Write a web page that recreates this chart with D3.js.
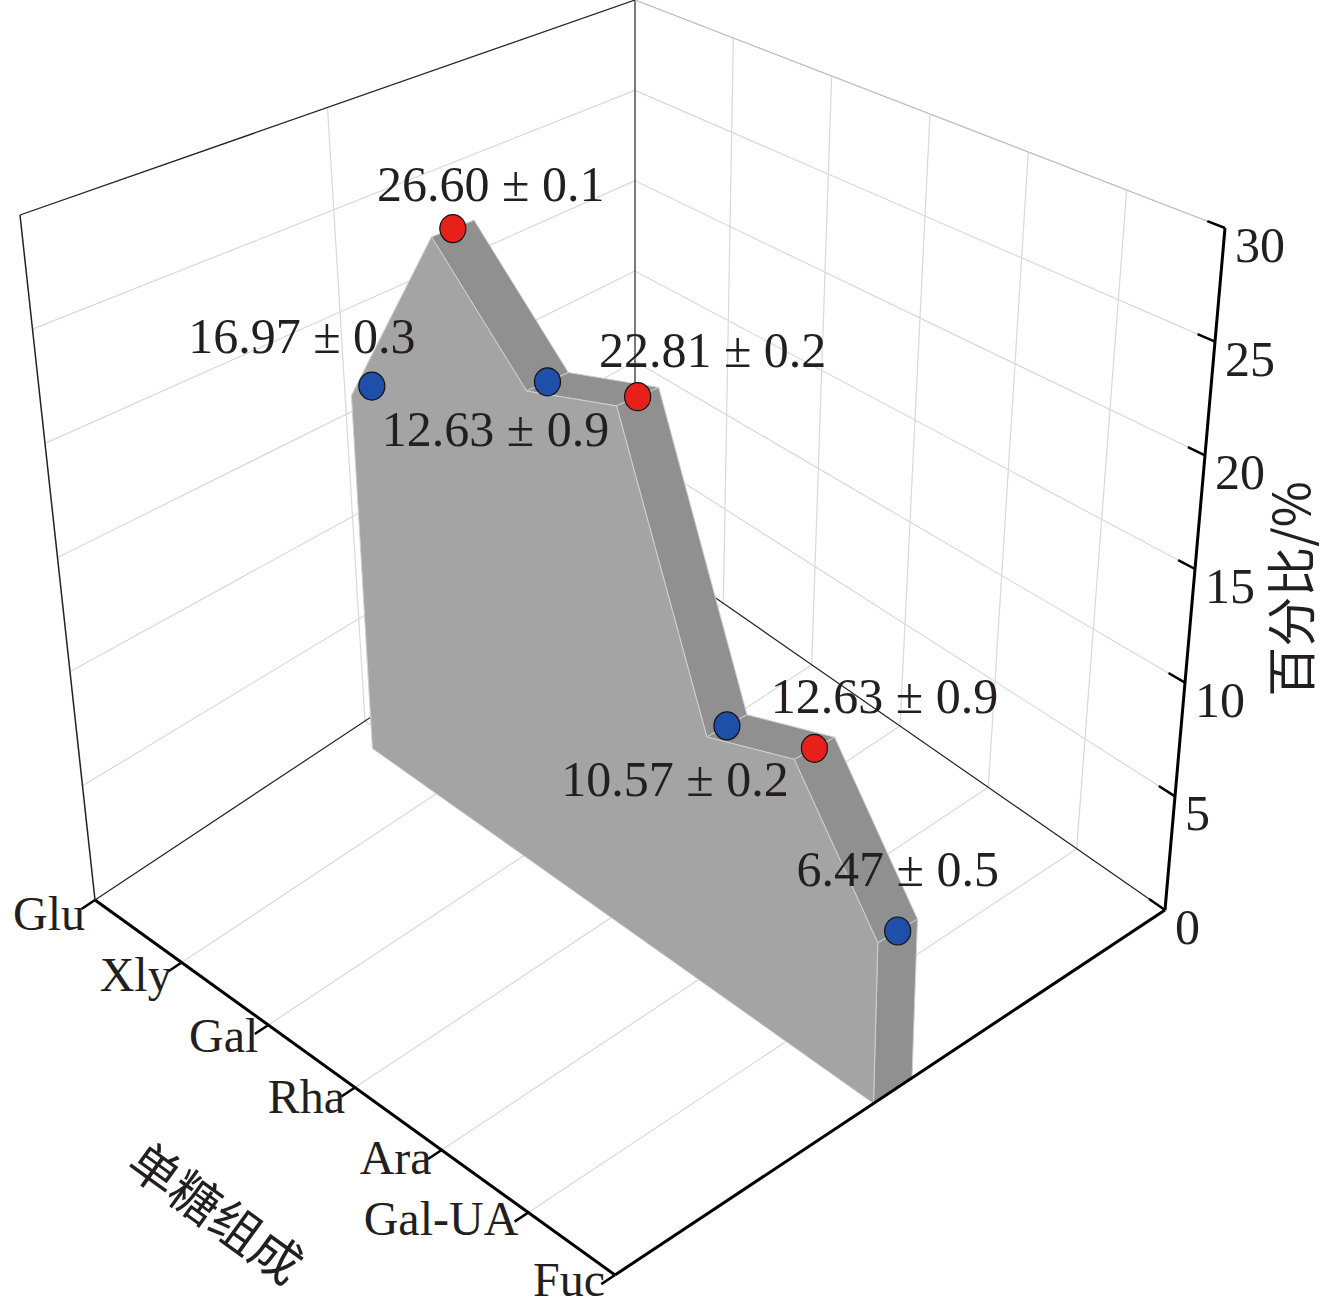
<!DOCTYPE html>
<html><head><meta charset="utf-8">
<script src="https://cdn.jsdelivr.net/npm/d3@7"></script>
<style>body{margin:0;background:#fff}</style></head>
<body><svg id="c" width="1332" height="1309"></svg>
<script>
var categories = ["Glu", "Xly", "Gal", "Rha", "Ara", "Gal-UA", "Fuc"];
var values = [16.97, 26.60, 21.5, 22.81, 10.57, 11.8, 6.47];
var labels = ["16.97 ± 0.3", "26.60 ± 0.1", "12.63 ± 0.9", "22.81 ± 0.2", "10.57 ± 0.2", "12.63 ± 0.9", "6.47 ± 0.5"];
var colors = ["#1f4fa8", "#e8201c", "#1f4fa8", "#e8201c", "#1f4fa8", "#e8201c", "#1f4fa8"];
var zTicks = [0, 5, 10, 15, 20, 25, 30];
// label offset from point (text centre x, baseline y)
var labelOff = [[-70, -33], [38, -28], [-52, 64], [75, -30], [-52, 70], [70, -35], [0, -45]];

var svg = d3.select("#c");
var serif = "'Liberation Serif', 'Times New Roman', serif";

// projection: floor corners and vertical vectors (per 30 units) at corners
var A = [95, 900], B = [615, 1275], C = [1165, 910], D = [635, 542];
var HA = [-75, -685], HB = [-15, -800], HC = [60, -682], HD = [0, -542];
function bil(a, b, c, d, u, v) {
  return [0, 1].map(function(k) {
    return (1-u)*(1-v)*a[k] + u*(1-v)*b[k] + u*v*c[k] + (1-u)*v*d[k];
  });
}
var zs = d3.scaleLinear().domain([0, 30]).range([0, 1]);
var us = d3.scalePoint().domain(categories).range([0.045, 1.0]);
function P(u, v, z) {
  var f = bil(A, B, C, D, u, v), h = bil(HA, HB, HC, HD, u, v), t = zs(z);
  return [f[0] + t*h[0], f[1] + t*h[1]];
}
function poly(pts) { return "M" + pts.map(function(p) { return p.join(","); }).join("L") + "Z"; }
function line(a, b, col, w) {
  svg.append("line").attr("x1", a[0]).attr("y1", a[1]).attr("x2", b[0]).attr("y2", b[1])
    .attr("stroke", col).attr("stroke-width", w);
}

// grids
var grid = "#d9d9d9";
zTicks.slice(1).forEach(function(z) {
  line(P(0, 0, z), P(0, 1, z), grid, 1.2);
  line(P(0, 1, z), P(1, 1, z), grid, 1.2);
});
[0.5].forEach(function(v) { line(P(0, v, 0), P(0, v, 30), grid, 1.2); line(P(0, v, 0), P(1, v, 0), grid, 1.2); });
d3.range(1, 6).forEach(function(i) {
  var u = i / 6;
  line(P(u, 1, 0), P(u, 1, 30), grid, 1.2);
  line(P(u, 0, 0), P(u, 1, 0), grid, 1.2);
});
// wall outlines
line(P(0, 0, 0), P(0, 0, 30), "#222", 1.5);
line(P(0, 0, 30), P(0, 1, 30), "#222", 1.2);
line(P(0, 1, 0), P(0, 1, 30), "#222", 1.2);
line(P(0, 1, 30), P(1, 1, 30), "#bbb", 1);
line(P(0, 0, 0), P(0, 1, 0), "#222", 1.2);
line(P(0, 1, 0), P(1, 1, 0), "#222", 1.2);

// ribbon
var vf = 0.47, vb = 0.54;
var front = values.map(function(d, i) { return P(us(categories[i]), vf, d); });
var back = values.map(function(d, i) { return P(us(categories[i]), vb, d); });
var n = values.length, uL = us(categories[0]), uR = us(categories[n-1]);
var g = svg.append("g");
for (var i = 0; i < n - 1; i++) {
  g.append("path").attr("d", poly([front[i], front[i+1], back[i+1], back[i]]))
    .attr("fill", "#909090").attr("stroke", "#cfcfcf").attr("stroke-width", 1);
}
g.append("path").attr("d", poly([front[n-1], back[n-1], P(uR, vb, 0), P(uR, vf, 0)]))
  .attr("fill", "#909090").attr("stroke", "#cfcfcf").attr("stroke-width", 1);
g.append("path").attr("d", poly([P(uL, vf, 0)].concat(front).concat([P(uR, vf, 0)])))
  .attr("fill", "#a4a4a4").attr("stroke", "#cfcfcf").attr("stroke-width", 1);

// points and labels
var vm = (vf + vb) / 2;
values.forEach(function(d, i) {
  var p = P(us(categories[i]), vm, d);
  svg.append("ellipse").attr("cx", p[0]).attr("cy", p[1]).attr("rx", 13).attr("ry", 14)
    .attr("fill", colors[i]).attr("stroke", "#111").attr("stroke-width", 1.2);
  svg.append("text").attr("x", p[0] + labelOff[i][0]).attr("y", p[1] + labelOff[i][1])
    .attr("text-anchor", "middle").attr("font-family", serif).attr("font-size", 50)
    .attr("fill", "#231f20").text(labels[i]);
});

// front axes
line(P(0, 0, 0), P(1, 0, 0), "#000", 3);
line(P(1, 0, 0), P(1, 1, 0), "#000", 3);
line(P(1, 1, 0), P(1, 1, 30), "#000", 3);
categories.forEach(function(c, i) {
  var u = i / 6, a = P(u, 0, 0), b = P(u, 0.025, 0);
  line(a, [2*a[0]-b[0], 2*a[1]-b[1]], "#000", 2.5);
  svg.append("text").attr("x", a[0] - 10).attr("y", a[1] + 30 - i * 1.5).attr("text-anchor", "end")
    .attr("font-family", serif).attr("font-size", 48).attr("fill", "#231f20").text(c);
});
zTicks.forEach(function(z) {
  var a = P(1, 1, z), b = P(0.97, 1, z);
  line(a, b, "#000", 2.5);
  svg.append("text").attr("x", a[0] + 10).attr("y", a[1] + 34)
    .attr("font-family", serif).attr("font-size", 50).attr("fill", "#231f20").text(z);
});
var zm = P(1, 1, 15);
svg.append("text").attr("transform", "translate(" + (zm[0] + 115) + "," + (zm[1] + 20) + ") rotate(-90)")
  .attr("text-anchor", "middle").attr("font-family", "'Noto Sans CJK SC', serif")
  .attr("font-size", 50).attr("fill", "#231f20").text("百分比/%");
var xm = P(0.5, 0, 0);
svg.append("text").attr("transform", "translate(" + (xm[0] - 150) + "," + (xm[1] + 140) + ") rotate(36)")
  .attr("text-anchor", "middle").attr("font-family", "'Noto Sans CJK SC', serif")
  .attr("font-size", 50).attr("fill", "#231f20").text("单糖组成");
</script></body></html>
